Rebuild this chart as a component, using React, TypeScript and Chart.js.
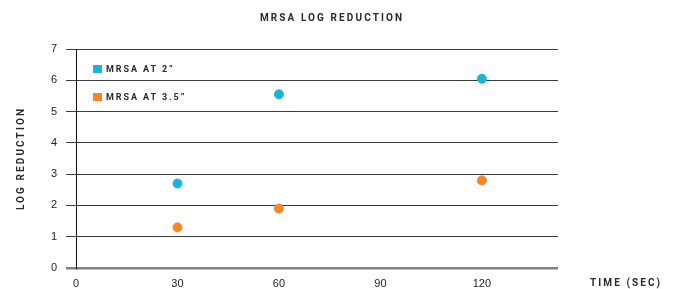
import React, { useEffect, useRef } from "react";
import { Chart, registerables } from "chart.js";

Chart.register(...registerables);

const chartTitle = "MRSA LOG REDUCTION";
const xTitle = "TIME (SEC)";
const yTitle = "LOG REDUCTION";
const times = [30, 60, 120];
const xTicks = [0, 30, 60, 90, 120];
const seriesNames = ["MRSA AT 2\u201D", "MRSA AT 3.5\u201D"];
const mrsa2 = [2.7, 5.55, 6.05];
const mrsa35 = [1.3, 1.9, 2.8];
const colors = ["#1BB4D6", "#F5862A"];

const textPlugin = {
  id: "customText",
  afterDraw(chart: any) {
    const ctx = chart.ctx as CanvasRenderingContext2D;
    const area = chart.chartArea;
    ctx.save();
    ctx.fillStyle = "#2a2a2a";
    (ctx as any).letterSpacing = "2.1px";
    ctx.font = "bold 10px Roboto";
    ctx.textBaseline = "middle";
    ctx.textAlign = "left";
    // title
    const tw = ctx.measureText(chartTitle).width;
    ctx.fillText(chartTitle, 332 - tw / 2, 18);
    // x title
    ctx.fillText(xTitle, 590, 283);
    // y title
    ctx.save();
    ctx.translate(21, (area.top + area.bottom) / 2);
    ctx.rotate(-Math.PI / 2);
    const yw = ctx.measureText(yTitle).width;
    ctx.fillText(yTitle, -yw / 2, 0);
    ctx.restore();
    // legend
    ctx.font = "bold 9px Roboto";
    (ctx as any).letterSpacing = "1.9px";
    const legendY = [69, 97];
    seriesNames.forEach((name, i) => {
      ctx.fillStyle = colors[i];
      ctx.fillRect(93, legendY[i] - 4, 9, 8);
      ctx.fillStyle = "#2a2a2a";
      ctx.fillText(name, 106, legendY[i] + 0.5);
    });
    ctx.restore();
  },
};

export default function App() {
  const ref = useRef<HTMLCanvasElement | null>(null);
  useEffect(() => {
    if (!ref.current) return;
    const tickFont = { family: "'Liberation Sans', Arial, sans-serif", size: 11 };
    const chart = new Chart(ref.current, {
      type: "scatter",
      data: {
        datasets: [
          {
            label: seriesNames[0],
            data: times.map((t, i) => ({ x: t, y: mrsa2[i] })),
            backgroundColor: colors[0],
            borderColor: colors[0],
            pointRadius: 4.5,
          },
          {
            label: seriesNames[1],
            data: times.map((t, i) => ({ x: t, y: mrsa35[i] })),
            backgroundColor: colors[1],
            borderColor: colors[1],
            pointRadius: 4.5,
          },
        ],
      },
      options: {
        responsive: false,
        animation: false,
        layout: { padding: { top: 49, right: 122, bottom: 0, left: 0 } },
        plugins: {
          legend: { display: false },
          title: { display: false },
          tooltip: { enabled: false },
        },
        scales: {
          x: {
            type: "linear",
            min: 0,
            max: 142.5,
            afterBuildTicks: (scale: any) => {
              scale.ticks = xTicks.map((v) => ({ value: v }));
            },
            afterFit: (scale: any) => {
              scale.height = 21;
            },
            grid: { display: false, drawTicks: false },
            border: { display: false },
            ticks: { font: tickFont, color: "#222", padding: 9, maxRotation: 0 },
          },
          y: {
            min: 0,
            max: 7,
            afterFit: (scale: any) => {
              scale.width = 76;
            },
            ticks: { stepSize: 1, font: tickFont, color: "#222", padding: 9 },
            grid: {
              tickLength: 10,
              color: (c: any) => (c.tick && c.tick.value === 0 ? "#808080" : "#3a3a3a"),
              lineWidth: (c: any) => (c.tick && c.tick.value === 0 ? 2.5 : 1),
            },
            border: { display: true, color: "#111", width: 1 },
          },
        },
      },
      plugins: [textPlugin],
    });
    return () => chart.destroy();
  }, []);
  return (
    <div style={{ position: "fixed", left: 0, top: 0, width: 680, height: 289, background: "#fff" }}>
      <canvas ref={ref} width={680} height={289} />
    </div>
  );
}
